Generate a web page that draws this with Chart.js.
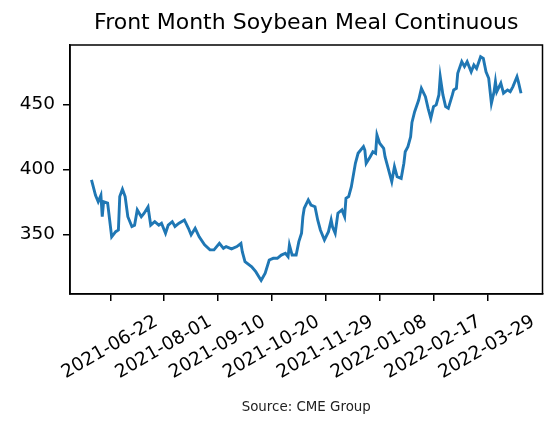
<!DOCTYPE html>
<html><head><meta charset="utf-8">
<script src="https://cdn.jsdelivr.net/npm/chart.js@4"></script>
<style>html,body{margin:0;padding:0;background:#fff}canvas{display:block}</style>
</head><body>
<canvas id="c" width="559" height="424"></canvas>
<script>
const dates = [
"2021-06-08","2021-06-10","2021-06-11","2021-06-13","2021-06-15","2021-06-16","2021-06-17","2021-06-20",
"2021-06-23","2021-06-26","2021-06-28","2021-06-29","2021-07-01","2021-07-03","2021-07-05","2021-07-08",
"2021-07-10","2021-07-12","2021-07-15","2021-07-17","2021-07-20","2021-07-22","2021-07-25","2021-07-28",
"2021-07-30","2021-08-02","2021-08-04","2021-08-07","2021-08-09","2021-08-12","2021-08-16","2021-08-19",
"2021-08-21","2021-08-24","2021-08-27","2021-08-31","2021-09-04","2021-09-07","2021-09-11","2021-09-14",
"2021-09-16","2021-09-20","2021-09-24","2021-09-27","2021-09-28","2021-09-30","2021-10-05","2021-10-08",
"2021-10-12","2021-10-15","2021-10-18","2021-10-21","2021-10-24","2021-10-27","2021-10-30","2021-11-01",
"2021-11-02","2021-11-04","2021-11-07","2021-11-09","2021-11-11","2021-11-12","2021-11-13","2021-11-16",
"2021-11-18","2021-11-21","2021-11-23","2021-11-25","2021-11-28","2021-12-01","2021-12-03","2021-12-04",
"2021-12-06","2021-12-08","2021-12-11","2021-12-13","2021-12-14","2021-12-16","2021-12-18","2021-12-21",
"2021-12-23","2021-12-27","2021-12-28","2021-12-29","2022-01-01","2022-01-03","2022-01-05","2022-01-06",
"2022-01-08","2022-01-11","2022-01-12","2022-01-14","2022-01-17","2022-01-19","2022-01-21","2022-01-24",
"2022-01-26","2022-01-27","2022-01-29","2022-01-31","2022-02-01","2022-02-03","2022-02-06","2022-02-08",
"2022-02-11","2022-02-13","2022-02-15","2022-02-17","2022-02-19","2022-02-21","2022-02-22","2022-02-24",
"2022-02-26","2022-02-28","2022-03-03","2022-03-04","2022-03-06","2022-03-07","2022-03-10","2022-03-12",
"2022-03-14","2022-03-17","2022-03-19","2022-03-21","2022-03-24","2022-03-26","2022-03-28","2022-03-30",
"2022-04-01","2022-04-03","2022-04-04","2022-04-05","2022-04-08","2022-04-10","2022-04-13","2022-04-15",
"2022-04-17","2022-04-20","2022-04-21","2022-04-23"
];
const values = [
391.8,384,380,375,380,363.5,375,374,
348,352,353.3,379,384.6,379,363.5,356,
357,368.7,363.5,366,371,357,359.7,357,
358.5,350.8,357,359.7,356,358.5,361,354.6,
349.5,354.6,348,341.8,338,338,343,339.2,
340.5,338.7,340.5,343,336.6,328.9,325,321.2,
314.5,320,330.2,331.5,331.5,334,335.4,332.8,
341.8,334,334,344.3,350.8,363.5,370,376.4,
372.5,371.2,361,353.3,345.6,352,361,355.8,
350.8,366.2,368.7,363.5,377.7,379,386.6,404.6,
412.3,417.4,414.8,404.6,409.7,413.5,412.3,426.4,
420,416.1,409.7,402,390.5,402,394.3,393,
404.6,413.5,417.4,425,436,444.3,453.3,462.3,
455.8,446.9,439.2,448.2,449.5,457.2,471.2,457.2,
448.2,446.9,457.2,461,462.3,473.8,482.8,479,
482.8,475,480.2,477.5,486.6,485.3,475,470,
450.8,459.7,467.4,459.7,466.2,458.5,461,459.7,
463.6,471.2,467.4,458.5
];
const tickDates = ["2021-06-22","2021-08-01","2021-09-10","2021-10-20","2021-11-29","2022-01-08","2022-02-17","2022-03-29"];
const yTicks = [350, 400, 450];
const yLimits = [304.1, 495.6];
const titleText = "Front Month Soybean Meal Continuous";
const sourceText = "Source: CME Group";

const toDay = s => { const [y, m, d] = s.split('-').map(Number); return Date.UTC(y, m - 1, d) / 86400000; };
const fromDay = n => new Date(Math.round(n) * 86400000).toISOString().slice(0, 10);
const xs = dates.map(toDay);
const points = xs.map((x, i) => ({ x: x, y: values[i] }));
const withMargin = (a, b) => { const r = b - a; return [a - 0.05 * r, b + 0.05 * r]; };
const [xMin, xMax] = withMargin(Math.min(...xs), Math.max(...xs));
const FONT = 'DejaVu Sans';

const frame = {
  id: 'frame',
  afterDatasetsDraw(chart) {
    const { ctx, chartArea: a } = chart;
    ctx.save();
    ctx.strokeStyle = '#000';
    ctx.lineWidth = 1.5;
    ctx.strokeRect(a.left, a.top, a.right - a.left, a.bottom - a.top);
    ctx.restore();
  }
};

const axisGrid = { drawOnChartArea: false, drawTicks: true, tickLength: 7, color: '#000', lineWidth: 1.5 };
const axisBorder = { display: true, color: '#000', width: 1.5 };

new Chart(document.getElementById('c'), {
  type: 'line',
  data: { datasets: [{ data: points, borderColor: '#1f77b4', borderWidth: 2.9, pointRadius: 0, tension: 0, fill: false }] },
  options: {
    responsive: false, animation: false, devicePixelRatio: 1,
    layout: { padding: { left: 0, right: 16.5, top: 0, bottom: 0 } },
    plugins: {
      legend: { display: false }, tooltip: { enabled: false },
      title: { display: true, text: titleText, fullSize: false, color: '#000',
        font: { family: FONT, size: 22, weight: 'normal' }, padding: { top: 10, bottom: 8.6 } },
      subtitle: { display: true, text: sourceText, position: 'bottom', fullSize: false, color: '#222',
        font: { family: FONT, size: 13.4, weight: 'normal' }, padding: { top: 0, bottom: 8 } }
    },
    scales: {
      x: {
        type: 'linear', min: xMin, max: xMax,
        afterBuildTicks: s => { s.ticks = tickDates.map(d => ({ value: toDay(d) })); },
        afterFit: s => { s.height = 106; s.paddingLeft = 0; s.paddingRight = 0; },
        ticks: { callback: v => fromDay(v), minRotation: 30, maxRotation: 30, autoSkip: false,
          labelOffset: 46, padding: 10, color: '#000', font: { family: FONT, size: 18.5 } },
        grid: axisGrid, border: axisBorder
      },
      y: {
        type: 'linear', min: yLimits[0], max: yLimits[1],
        afterBuildTicks: s => { s.ticks = yTicks.map(v => ({ value: v })); },
        afterFit: s => { s.width = 70; },
        ticks: { padding: 8, color: '#000', font: { family: FONT, size: 18.5 } },
        grid: axisGrid, border: axisBorder
      }
    }
  },
  plugins: [frame]
});
</script>
</body></html>
